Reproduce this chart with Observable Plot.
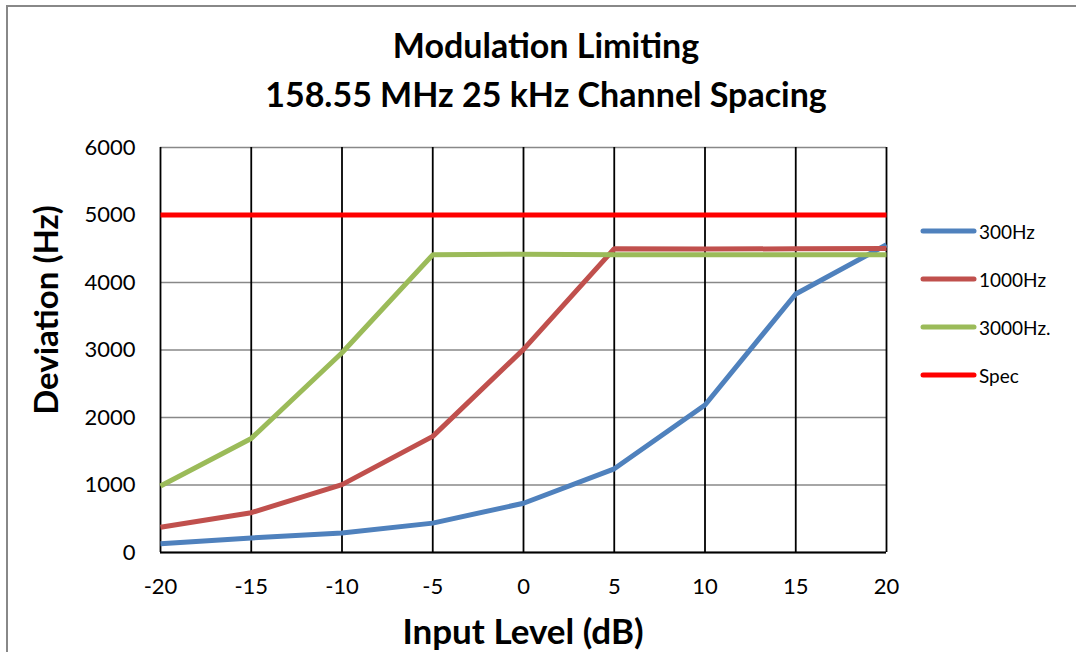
<!DOCTYPE html>
<html>
<head>
<meta charset="utf-8">
<script src="https://cdn.jsdelivr.net/npm/d3@7"></script>
<script src="https://cdn.jsdelivr.net/npm/@observablehq/plot@0.6"></script>
<style>
  html, body { margin: 0; padding: 0; background: #fff; }
  #wrap { position: relative; width: 1076px; height: 652px; overflow: hidden; font-family: Lato, "Open Sans", sans-serif; }
  #border { position: absolute; left: 6px; top: 5px; width: 1080px; height: 660px; border-left: 2px solid #888; border-top: 2px solid #888; box-sizing: border-box; }
  .title { position: absolute; left: 0; width: 1092px; text-align: center; font-weight: bold; font-size: 34px; color: #000; white-space: nowrap; }
  #ytitle { position: absolute; left: 45px; top: 310px; transform: translate(-50%, -50%) rotate(-90deg); font-weight: bold; font-size: 33px; white-space: nowrap; }
  #xtitle { position: absolute; left: 523px; top: 630px; transform: translate(-50%, -50%); font-weight: bold; font-size: 35px; white-space: nowrap; }
  #legend { position: absolute; left: 920px; top: 207px; }
  .item { display: flex; align-items: center; height: 48px; font-size: 19px; }
  .item svg { margin-right: 2px; }
  #chart { position: absolute; left: 0; top: 0; }
</style>
</head>
<body>
<div id="wrap">
  <div id="chart"></div>
  <div id="border"></div>
  <div class="title" id="t1" style="top:24px">Modulation Limiting</div>
  <div class="title" id="t2" style="top:73px">158.55 MHz 25 kHz Channel Spacing</div>
  <div id="ytitle">Deviation (Hz)</div>
  <div id="xtitle">Input Level (dB)</div>
  <div id="legend"></div>
</div>
<script>
const inputLevel = [-20, -15, -10, -5, 0, 5, 10, 15, 20];
const dev300 = [130, 215, 290, 435, 730, 1240, 2185, 3830, 4560];
const dev1000 = [375, 590, 1005, 1720, 3010, 4500, 4495, 4500, 4505];
const dev3000 = [985, 1690, 2960, 4410, 4420, 4410, 4410, 4410, 4410];
const spec = [5000, 5000, 5000, 5000, 5000, 5000, 5000, 5000, 5000];
const seriesNames = ["300Hz", "1000Hz", "3000Hz.", "Spec"];
const seriesColors = ["#4F81BD", "#C0504D", "#9BBB59", "#FF0000"];
const yTicks = [0, 1000, 2000, 3000, 4000, 5000, 6000];
const xTicks = [-20, -15, -10, -5, 0, 5, 10, 15, 20];

const allSeries = [dev300, dev1000, dev3000, spec];
const data = [];
allSeries.forEach((vals, i) => {
  vals.forEach((v, j) => data.push({series: seriesNames[i], x: inputLevel[j], y: v}));
});

const chart = Plot.plot({
  width: 1076,
  height: 652,
  marginLeft: 160,
  marginRight: 190,
  marginTop: 147,
  marginBottom: 100,
  style: {fontFamily: "Lato, 'Open Sans', sans-serif", fontSize: "22px", color: "#000", background: "transparent"},
  x: {domain: [-20, 20], ticks: xTicks},
  y: {domain: [0, 6000], ticks: yTicks},
  color: {domain: seriesNames, range: seriesColors},
  marks: [
    Plot.ruleY(yTicks, {stroke: "#888", strokeWidth: 1.5}),
    Plot.ruleX(xTicks, {stroke: "#000", strokeWidth: 1.8}),
    Plot.ruleY([0], {stroke: "#000", strokeWidth: 1.8}),
    Plot.axisX({ticks: xTicks, tickSize: 0, tickPadding: 26, label: null, tickFormat: d => String(d), fontSize: 22}),
    Plot.axisY({ticks: yTicks, tickSize: 0, tickPadding: 25, label: null, tickFormat: d => String(d), fontSize: 22}),
    Plot.line(data, {x: "x", y: "y", z: "series", stroke: "series", strokeWidth: 5, strokeLinejoin: "miter", strokeLinecap: "butt"})
  ]
});
document.getElementById("chart").appendChild(chart);

const legend = document.getElementById("legend");
seriesNames.forEach((name, i) => {
  const div = document.createElement("div");
  div.className = "item";
  div.innerHTML = `<svg width="57" height="8"><line x1="3" y1="4" x2="54" y2="4" stroke="${seriesColors[i]}" stroke-width="5" stroke-linecap="round"/></svg><span>${name}</span>`;
  legend.appendChild(div);
});
</script>
</body>
</html>
